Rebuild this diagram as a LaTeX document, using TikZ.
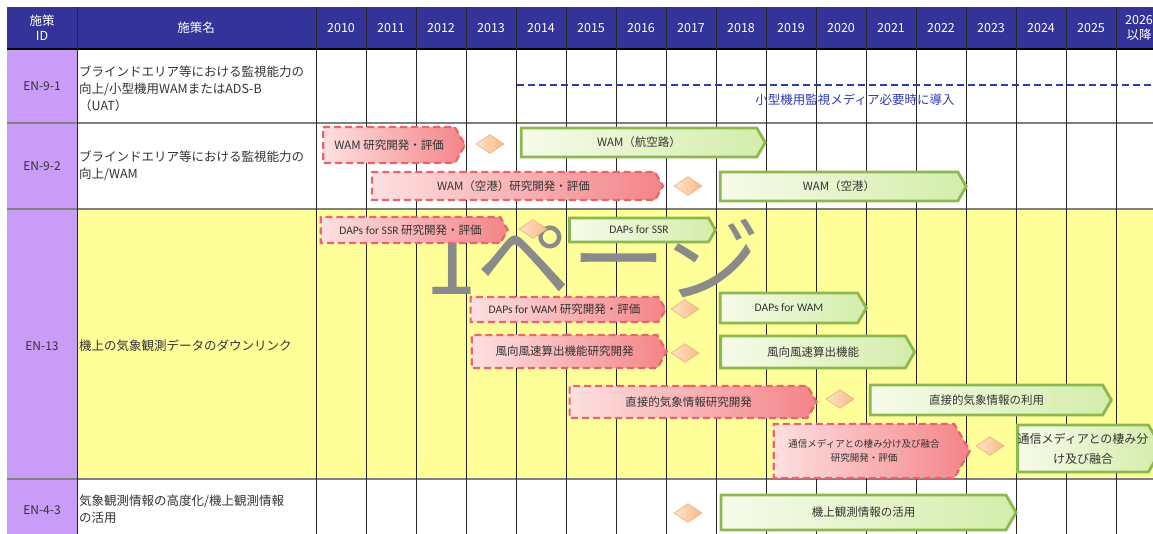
\documentclass[tikz,border=0pt]{standalone}
\usepackage{fontspec}
\setmainfont{Noto Sans CJK JP}
\newfontfamily\carl{Carlito}
\usetikzlibrary{shapes.geometric,shapes.symbols}
\definecolor{hdr}{HTML}{333399}
\definecolor{idcol}{HTML}{C99DF7}
\definecolor{yel}{HTML}{FFFF99}
\definecolor{pinkL}{HTML}{FDE0E0}
\definecolor{pinkR}{HTML}{F48488}
\definecolor{pinkB}{HTML}{E9646E}
\definecolor{grnL}{HTML}{F6FBEA}
\definecolor{grnR}{HTML}{D3EDAA}
\definecolor{grnB}{HTML}{8DB84E}
\definecolor{dmdL}{HTML}{FDE3C8}
\definecolor{dmdR}{HTML}{F9BA86}
\definecolor{dmdB}{HTML}{F2AE7A}
\definecolor{txt}{HTML}{333333}
\definecolor{blu}{HTML}{2E3BB0}
\definecolor{wm}{HTML}{8A8A8A}
\definecolor{rowgray}{HTML}{808080}
\begin{document}
\begin{tikzpicture}[x=1pt,y=-1pt,
  hdrtxt/.style={text=white, font=\fontsize{12.5}{15}\selectfont, align=center, inner sep=0},
  idtxt/.style={text=txt, font=\fontsize{12}{14}\selectfont, inner sep=0},
  nametxt/.style={text=txt, font=\fontsize{12.5}{17}\selectfont, align=left, anchor=west, inner sep=0},
  arrbase/.style={signal, signal to=east, signal from=nowhere, signal pointer angle=120, inner sep=0, text=txt, font=\fontsize{11.5}{14}\selectfont, align=center},
  pinkarr/.style={arrbase, draw=pinkB, line width=2.2pt, dash pattern=on 7pt off 4pt, left color=pinkL, right color=pinkR},
  grnarr/.style={arrbase, draw=grnB, line width=2.8pt, left color=grnL, right color=grnR},
  milestone/.style={diamond, minimum width=28, minimum height=19, inner sep=0, draw=dmdB, line width=0.6pt, left color=dmdL, right color=dmdR},
  rowline/.style={rowgray, line width=1.4pt},
  colline/.style={black!85, line width=0.9pt},
]
\useasboundingbox (0,0) rectangle (1153,534);
\clip (0,0) rectangle (1153,534);
% backgrounds
\fill[hdr] (7,7) rectangle (1160,49);
\fill[idcol] (7,49) rectangle (77,540);
\fill[yel] (77,209) rectangle (1160,479);
% grid
\foreach \yy in {123,209,479} \draw[rowline] (7,\yy) -- (1160,\yy);
\draw[black, line width=1.2pt] (7,49) -- (1160,49);
\draw[colline] (77,7) -- (77,540);
\foreach \k in {0,...,16} \draw[colline] ({316+50*\k},7) -- ({316+50*\k},540);
% header
\node[hdrtxt] (hID) at (42,28) {施策\\ID};
\node[hdrtxt] (hName) at (196,28) {施策名};
\foreach \yr [count=\i from 0] in {2010,...,2025} {
  \node[hdrtxt] (h\yr) at ({341+50*\i},28) {\yr};
}
\node[hdrtxt] (h2026) at (1139,28) {2026\\以降};
% row labels
\node[idtxt] (id1) at (42,86) {EN-9-1};
\node[idtxt] (id2) at (42,166) {EN-9-2};
\node[idtxt] (id3) at (42,346) {EN-13};
\node[idtxt] (id4) at (42,510) {EN-4-3};
\node[nametxt] (n1) at (79,89) {ブラインドエリア等における監視能力の\\向上/小型機用WAMまたはADS-B\\（UAT）};
\node[nametxt] (n2) at (79,166) {ブラインドエリア等における監視能力の\\向上/WAM};
\node[nametxt] (n3) at (79,346) {機上の気象観測データのダウンリンク};
\node[nametxt] (n4) at (79,509) {気象観測情報の高度化/機上観測情報\\の活用};
% EN-9-1 dashed line
\coordinate (b1) at (517,85);
\coordinate (b2) at (1160,85);
\draw[blu, line width=2pt, dash pattern=on 7pt off 4pt] (b1) -- (b2);
\node[text=blu, font=\fontsize{12.5}{14}\selectfont, inner sep=0] (bt) at (855,100) {小型機用監視メディア必要時に導入};
% watermark
\node[text=wm, font=\fontsize{95}{95}\selectfont, inner sep=0] (wmk) at (592,258) {1ページ};
% EN-9-2
\node[pinkarr, minimum width=142, minimum height=36] (p1) at (389,145) {WAM 研究開発・評価};
\node[milestone] (d1) at (490,144) {};
\node[grnarr, minimum width=244, minimum height=29] (g1) at (639,142.5) {WAM（航空路）};
\node[pinkarr, minimum width=291, minimum height=28] (p2) at (513.5,186) {WAM（空港）研究開発・評価};
\node[milestone] (d2) at (688,186) {};
\node[grnarr, minimum width=246, minimum height=29] (g2) at (839,186.5) {WAM（空港）};
% EN-13
\node[pinkarr, minimum width=187, minimum height=26] (p3) at (410.5,230) {{\carl DAPs for SSR} 研究開発・評価};
\node[milestone] (d3) at (533,229) {};
\node[grnarr, minimum width=146, minimum height=24] (g3) at (639,230) {\carl DAPs for SSR};
\node[pinkarr, minimum width=195, minimum height=25] (p4) at (564.5,309.5) {{\carl DAPs for WAM} 研究開発・評価};
\node[milestone] (d4) at (685,309) {};
\node[grnarr, minimum width=146, minimum height=30] (g4) at (789,308) {\carl DAPs for WAM};
\node[pinkarr, minimum width=195, minimum height=33] (p5) at (564.5,351.5) {風向風速算出機能研究開発};
\node[milestone] (d5) at (685,353) {};
\node[grnarr, minimum width=194, minimum height=32] (g5) at (813,352) {風向風速算出機能};
\node[pinkarr, minimum width=247, minimum height=32] (p6) at (688.5,402) {直接的気象情報研究開発};
\node[milestone] (d6) at (840,399) {};
\node[grnarr, minimum width=241, minimum height=30] (g6) at (986.5,400) {直接的気象情報の利用};
\node[pinkarr, minimum width=196, minimum height=54, font=\fontsize{9.5}{14}\selectfont] (p7) at (864,451) {通信メディアとの棲み分け及び融合\\研究開発・評価};
\node[milestone] (d7) at (990,446) {};
\node[grnarr, minimum width=134, minimum height=47, font=\fontsize{12}{20}\selectfont] (g7) at (1083,448.5) {通信メディアとの棲み分\\け及び融合};
% EN-4-3
\node[milestone] (d8) at (688,513) {};
\node[grnarr, minimum width=295, minimum height=35] (g8) at (863.5,512.5) {機上観測情報の活用};
\end{tikzpicture}
\end{document}
